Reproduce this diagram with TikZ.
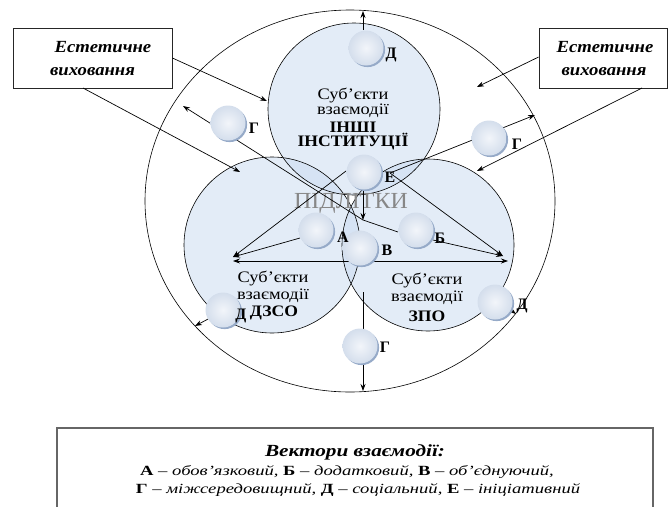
\documentclass[tikz,border=0pt]{standalone}
\usepackage{fontspec}
\setmainfont{Liberation Serif}
\usetikzlibrary{arrows.meta,shadows}
\definecolor{circfill}{RGB}{200,218,240}
\definecolor{ballin}{RGB}{242,245,250}
\definecolor{ballout}{RGB}{212,222,236}
\definecolor{ballshadow}{RGB}{150,170,200}
\definecolor{teengray}{RGB}{135,135,135}
\newcommand{\hs}[2]{\scalebox{#1}[1]{#2}}
\tikzset{
  conn/.style={draw=black, line width=0.7pt},
  tip/.tip={Stealth[length=7pt,width=5pt]},
  arr/.style={conn, -tip},
  bigc/.style={draw=black, line width=0.6pt},
  cfill/.style={fill=circfill, fill opacity=0.5},
  ball/.style={circle, minimum size=35pt, inner sep=0pt, shading=radial,
    inner color=ballin, outer color=ballout,
    drop shadow={shadow xshift=1.6pt, shadow yshift=-1.6pt, fill=ballshadow, opacity=1}},
  lbl/.style={inner sep=0pt, font=\fontsize{16}{16}\selectfont\bfseries},
  ctext/.style={inner sep=0pt, font=\fontsize{16}{16}\selectfont},
  ebox/.style={draw=black!85, line width=0.8pt, fill=white, minimum width=159pt,
    minimum height=60pt, inner sep=0pt},
  etext/.style={inner sep=0pt, font=\fontsize{17}{17}\selectfont\bfseries\itshape},
  legt/.style={inner sep=0pt, font=\fontsize{14}{14}\selectfont\itshape},
}
\begin{document}
\begin{tikzpicture}[x=1pt,y=-1pt]
\useasboundingbox (0,0) rectangle (669,506);
% outer ellipse
\draw[bigc] (350,201) ellipse [x radius=205, y radius=191];
% big circles
\fill[cfill] (354,109) circle [radius=86];
\fill[cfill] (272,245) circle [radius=88];
\fill[cfill] (428,245) circle [radius=86];
\draw[bigc] (354,109) circle [radius=86];
\draw[bigc] (272,245) circle [radius=88];
\draw[bigc] (428,245) circle [radius=86];
% teenagers
\node[inner sep=0pt, text=teengray, font=\fontsize{23}{23}\selectfont] (teen) at (351,203) {\hs{1.04}{ПІДЛІТКИ}};
% coordinates
\coordinate (L) at (233,257);
\coordinate (R) at (503,256);
\coordinate (HL) at (233,261);
\coordinate (HR) at (508,261);
\coordinate (C) at (363,220);
\coordinate (E1) at (390,173);
\coordinate (E2) at (346,171);
\coordinate (E3) at (363,190);
\coordinate (GulEnd) at (183,106);
\coordinate (GrEnd) at (535,115);
\coordinate (DtopS) at (363,30);
\coordinate (DtopE) at (363,11);
\coordinate (GbS) at (363,292);
\coordinate (GbE) at (363,391);
\coordinate (DlS) at (210,318);
\coordinate (DlE) at (195,326);
\coordinate (DrS) at (508,308);
\coordinate (DrE) at (516,314);
\coordinate (AS) at (300,238);
\coordinate (BS) at (433,240);
\coordinate (BC) at (398,232);
\coordinate (t1) at (267,101);
\coordinate (t2) at (240,172);
\coordinate (t3) at (477,87);
\coordinate (t4) at (477,171);
% boxes
\node[ebox] (lbox) at (92.5,58) {};
\node[ebox, minimum width=128pt] (rbox) at (603,58) {};
\node[etext] (lb1) at (103,47) {\hs{1.1}{Естетичне}};
\node[etext] (lb2) at (92.5,72) {\hs{1.1}{виховання}};
\node[etext] (rb1) at (605,47) {\hs{1.1}{Естетичне}};
\node[etext] (rb2) at (604,72) {\hs{1.1}{виховання}};
% connectors
\draw[arr] (lbox.east |- 0,58) -- (t1);
\draw[arr] (83,88) -- (t2);
\draw[arr] (rbox.west |- 0,57) -- (t3);
\draw[arr] (642,88) -- (t4);
\draw[arr] (C) -- (GulEnd);
\draw[arr] (E1) -- (GrEnd);
\draw[arr] (E2) -- (L);
\draw[arr] (E3) -- (C);
\draw[conn] (C) -- (BC);
\draw[arr] (AS) -- (L);
\draw[arr] (BS) -- (R);
\draw[arr] (E1) -- (R);
\draw[conn, tip-tip] (HL) -- (HR);
\draw[arr] (GbS) -- (GbE);
\draw[arr] (DtopS) -- (DtopE);
\draw[arr] (DlS) -- (DlE);
\draw[arr] (DrS) -- (DrE);
% balls
\node[ball] (bDt) at (366,48) {};
\node[ball] (bGul) at (228,123) {};
\node[ball] (bGr) at (489,138) {};
\node[ball] (bE) at (364,172) {};
\node[ball] (bA) at (316,230) {};
\node[ball] (bV) at (360,248) {};
\node[ball] (bB) at (416,230) {};
\node[ball] (bDl) at (223,310) {};
\node[ball] (bDr) at (495,302) {};
\node[ball] (bGb) at (360,346) {};
% circle texts
\node[ctext] (tt1) at (353,95) {\hs{1.15}{Суб'єкти}};
\node[ctext] (tt2) at (353,111) {\hs{1.15}{взаємодії}};
\node[ctext] (tt3) at (353,127) {\hs{1.1}{\textbf{ІНШІ}}};
\node[ctext] (tt4) at (353,142) {\hs{1.1}{\textbf{ІНСТИТУЦІЇ}}};
\node[ctext] (tl1) at (273,278) {\hs{1.15}{Суб'єкти}};
\node[ctext] (tl2) at (273,296) {\hs{1.15}{взаємодії}};
\node[ctext] (tl3) at (274,313) {\hs{1.1}{\textbf{ДЗСО}}};
\node[ctext] (tr1) at (427,280) {\hs{1.15}{Суб'єкти}};
\node[ctext] (tr2) at (427,298) {\hs{1.15}{взаємодії}};
\node[ctext] (tr3) at (427,316) {\hs{1.1}{\textbf{ЗПО}}};
% labels
\node[lbl] (lDt) at (391,55) {Д};
\node[lbl] (lGul) at (254,128) {Г};
\node[lbl] (lGr) at (517,144) {Г};
\node[lbl] (lE) at (390,177) {Е};
\node[lbl] (lA) at (343,237) {А};
\node[lbl] (lV) at (387,250) {В};
\node[lbl] (lB) at (440,238) {Б};
\node[lbl] (lDl) at (241,316) {Д};
\node[lbl] (lDr) at (522,306) {Д};
\node[lbl] (lGb) at (385,347) {Г};
% legend box
\draw[draw=black!60, line width=1.4pt] (57,510) -- (57,428) -- (653,428) -- (653,510);
\node[inner sep=0pt, font=\fontsize{17}{17}\selectfont\bfseries\itshape] (ltitle) at (355,452) {\hs{1.25}{Вектори взаємодії:}};
\node[legt] (l1) at (347,472) {\hs{1.33}{\textbf{\upshape А} – обов'язковий, \textbf{\upshape Б} – додатковий, \textbf{\upshape В} – об'єднуючий,}};
\node[legt] (l2) at (358,490) {\hs{1.33}{\textbf{\upshape Г} – міжсередовищний, \textbf{\upshape Д} – соціальний, \textbf{\upshape Е} – ініціативний}};
\end{tikzpicture}
\end{document}
